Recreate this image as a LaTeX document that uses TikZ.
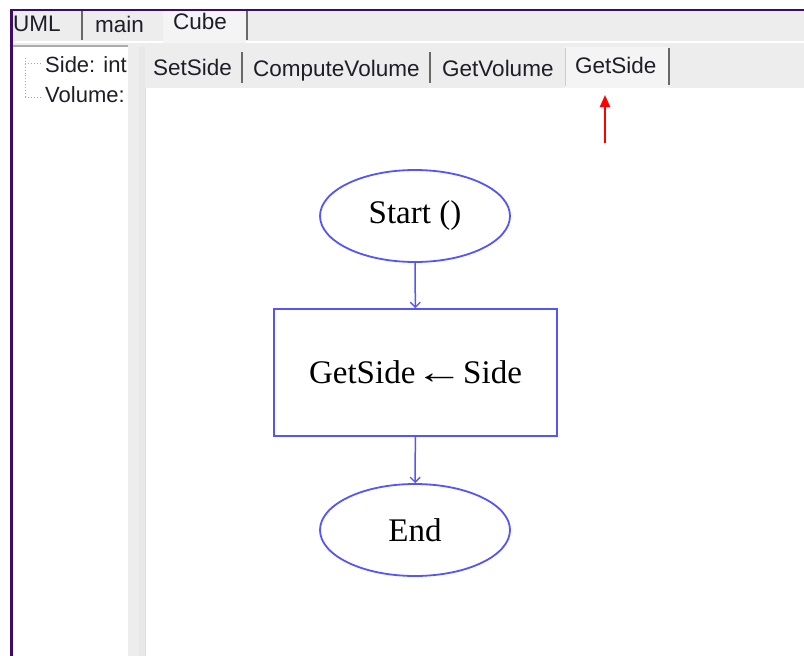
\documentclass[tikz,border=0pt]{standalone}
\usepackage{graphicx}
\usepackage{fontspec}
\setmainfont{Liberation Serif}
\newfontfamily\uifont{Liberation Sans}
\usetikzlibrary{arrows.meta,shapes.geometric}
\definecolor{frame}{RGB}{58,12,110}
\definecolor{barbg}{RGB}{237,237,237}
\definecolor{tabsel}{RGB}{244,244,244}
\definecolor{tabline}{RGB}{105,105,105}
\definecolor{flow}{RGB}{85,85,250}
\definecolor{uitext}{RGB}{30,30,40}
\newcommand{\assignarrow}{\scalebox{1.45}[1]{←}}
\tikzset{
  tablabel/.style={anchor=base west,inner sep=0pt,text=uitext,
    font=\uifont\fontsize{22.5}{27}\selectfont},
  treelabel/.style={tablabel,font=\uifont\fontsize{22}{26}\selectfont},
  flowtext/.style={font=\fontsize{33}{40}\selectfont,text=black},
  terminal/.style={ellipse,draw=flow,line width=1.8pt,fill=white,
    minimum width=190pt,minimum height=92pt,inner sep=0pt,flowtext},
  process/.style={rectangle,draw=flow,line width=1.8pt,fill=white,
    minimum width=283pt,minimum height=127pt,inner sep=0pt,flowtext},
  flowarrow/.style={draw=flow,line width=1.5pt,
    -{Straight Barb[length=5pt,width=10pt,line width=1.3pt]}},
  sepline/.style={draw=tabline,line width=1.6pt},
  treeline/.style={draw=gray!70,line width=0.9pt,dotted}
}
\begin{document}
\begin{tikzpicture}[x=1pt,y=-1pt]
\useasboundingbox (0,0) rectangle (804,656);
\fill[white] (0,0) rectangle (804,656);

% outer tab strip
\fill[barbg] (13,11) rectangle (804,47);
\draw[white,line width=1.2pt] (13,42) -- (804,42);
\fill[tabsel] (163,11) rectangle (246,47);
\draw[sepline] (82,11) -- (82,40);
\draw[sepline] (247,11) -- (247,40);
\node[tablabel] (tabuml)  at (13,31)  {UML};
\node[tablabel] (tabmain) at (95,32)  {main};
\node[tablabel] (tabcube) at (173,29) {Cube};

% member tree on the left
\fill[white] (13,47) rectangle (128,656);
\draw[gray!65,line width=1.6pt] (13,46) -- (128,46);
\draw[treeline] (25,58) -- (25,97);
\draw[treeline] (25,63) -- (41,63);
\draw[treeline] (25,97) -- (41,97);
\node[treelabel] (side) at (45,72)  {Side: int};
\node[treelabel] (vol)  at (45,102) {Volume:};

% splitter
\fill[barbg] (128,47) rectangle (145,656);
\fill[gray!18] (139,47) rectangle (145,656);

% inner tab strip
\fill[barbg] (145,43) rectangle (804,88);
\fill[tabsel] (565,47) rectangle (668,88);
\draw[sepline] (242,52) -- (242,83);
\draw[sepline] (430,52) -- (430,83);
\draw[gray!40,line width=1pt] (565,48) -- (565,86);
\draw[sepline] (669,48) -- (669,85);
\node[tablabel] (tsetside) at (153,75) {SetSide};
\node[tablabel] (tcompute) at (253,76) {ComputeVolume};
\node[tablabel] (tgetvol)  at (442,76) {GetVolume};
\node[tablabel] (tgetside) at (575,73) {GetSide};

% drawing canvas
\fill[white] (145,88) rectangle (804,656);
\draw[gray!25,line width=1pt] (145.5,88) -- (145.5,656);

% left frame edge and top border
\fill[frame] (10,9) rectangle (804,11);
\fill[frame] (10,9) rectangle (13,656);

% flowchart
\node[terminal] (start) at (415,216) {Start ()};
\node[process]  (assign) at (415.5,372.5) {GetSide\assignarrow Side};
\node[terminal] (stop) at (415,530) {End};
\draw[flowarrow] (start) -- (assign);
\draw[flowarrow] (assign) -- (stop);

% pointer to the active tab
\coordinate (ptrtail) at (605,143);
\coordinate (ptrhead) at (605,95);
\draw[red,line width=2pt,-{Triangle[length=12pt,width=10pt]}] (ptrtail) -- (ptrhead);
\end{tikzpicture}
\end{document}
